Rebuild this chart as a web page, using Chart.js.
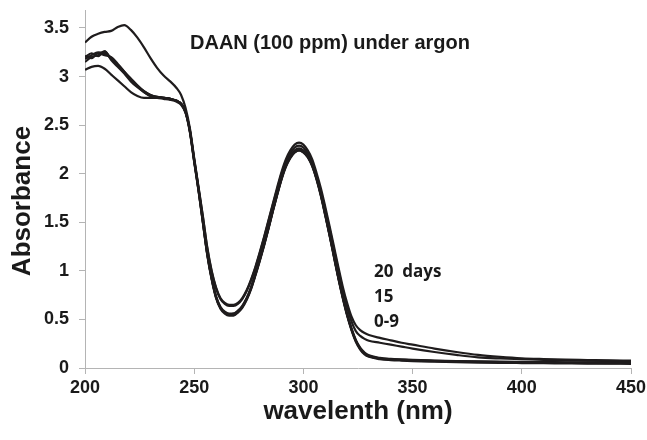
<!DOCTYPE html>
<html>
<head>
<meta charset="utf-8">
<title>DAAN absorbance spectra</title>
<script src="https://cdn.jsdelivr.net/npm/chart.js@4.4.1/dist/chart.umd.min.js"></script>
<style>
    html, body { margin: 0; padding: 0; background: #fff; }
    #wrap { width: 647px; height: 440px; }
</style>
</head>
<body>
<div id="wrap"><canvas id="spectrumChart" width="647" height="440"></canvas></div>
<script>
// wavelength grid (nm), shared by every spectrum
const wavelength = [
    200, 203, 206, 209, 212, 215, 218, 221, 224, 227, 230, 233, 236, 239, 242,
    244, 246, 248, 250, 252, 254, 256, 258, 260, 262, 264, 266, 268, 270, 272,
    274, 276, 278, 280, 282, 284, 286, 288, 290, 292, 294, 296, 298, 300, 302,
    304, 306, 308, 310, 312, 314, 316, 318, 320, 322, 324, 326, 328, 330,
    335, 340, 345, 350, 360, 370, 380, 390, 400, 410, 420, 430, 440, 450
];

// absorbance after 20 days
const day20 = [
    3.35, 3.41, 3.44, 3.46, 3.47, 3.51, 3.53, 3.48, 3.40, 3.30, 3.19, 3.09, 3.01, 2.95, 2.88,
    2.81, 2.68, 2.47, 2.16, 1.86, 1.56, 1.24, 1.00, 0.83, 0.72, 0.67, 0.65, 0.65, 0.67, 0.72,
    0.80, 0.91, 1.04, 1.19, 1.35, 1.52, 1.69, 1.86, 2.02, 2.15, 2.24, 2.30, 2.32, 2.30, 2.24,
    2.15, 2.01, 1.85, 1.66, 1.46, 1.25, 1.04, 0.84, 0.67, 0.53, 0.44, 0.39, 0.36, 0.34,
    0.31, 0.285, 0.26, 0.24, 0.20, 0.165, 0.135, 0.115, 0.10, 0.092, 0.086, 0.082, 0.078, 0.075
];

// absorbance after 15 days
const day15 = [
    3.07, 3.10, 3.11, 3.08, 3.02, 2.96, 2.90, 2.84, 2.80, 2.78, 2.78, 2.78, 2.77, 2.76, 2.74,
    2.71, 2.63, 2.45, 2.15, 1.85, 1.55, 1.23, 0.99, 0.82, 0.71, 0.66, 0.64, 0.64, 0.66, 0.71,
    0.79, 0.90, 1.03, 1.18, 1.34, 1.51, 1.68, 1.84, 2.00, 2.12, 2.21, 2.27, 2.29, 2.27, 2.21,
    2.12, 1.98, 1.82, 1.63, 1.43, 1.22, 1.01, 0.81, 0.63, 0.48, 0.38, 0.33, 0.30, 0.28,
    0.26, 0.24, 0.22, 0.20, 0.165, 0.135, 0.11, 0.098, 0.09, 0.084, 0.08, 0.076, 0.073, 0.07
];

// absorbance from day 0 to day 9
const day0 = [
    3.18, 3.22, 3.25, 3.24, 3.19, 3.11, 3.04, 2.96, 2.90, 2.84, 2.80, 2.79, 2.78, 2.77, 2.75,
    2.72, 2.64, 2.44, 2.13, 1.83, 1.50, 1.17, 0.92, 0.73, 0.62, 0.57, 0.55, 0.55, 0.58, 0.63,
    0.71, 0.82, 0.96, 1.11, 1.27, 1.44, 1.62, 1.79, 1.95, 2.08, 2.17, 2.23, 2.25, 2.23, 2.18,
    2.09, 1.95, 1.78, 1.58, 1.37, 1.15, 0.93, 0.73, 0.55, 0.40, 0.28, 0.20, 0.15, 0.125,
    0.10, 0.09, 0.085, 0.08, 0.074, 0.069, 0.065, 0.062, 0.06, 0.057, 0.055, 0.053, 0.051, 0.05
];

const day3 = [
    3.15, 3.20, 3.22, 3.26, 3.18, 3.12, 3.05, 2.97, 2.90, 2.85, 2.81, 2.79, 2.78, 2.77, 2.75,
    2.72, 2.64, 2.45, 2.14, 1.84, 1.51, 1.18, 0.93, 0.74, 0.63, 0.58, 0.56, 0.56, 0.59, 0.64,
    0.72, 0.83, 0.97, 1.12, 1.28, 1.45, 1.63, 1.80, 1.96, 2.09, 2.18, 2.24, 2.26, 2.24, 2.19,
    2.10, 1.96, 1.79, 1.59, 1.38, 1.16, 0.94, 0.74, 0.56, 0.41, 0.29, 0.21, 0.16, 0.13,
    0.105, 0.094, 0.088, 0.083, 0.077, 0.072, 0.068, 0.065, 0.063, 0.061, 0.059, 0.057, 0.056, 0.055
];

const day6 = [
    3.21, 3.19, 3.24, 3.22, 3.20, 3.13, 3.05, 2.98, 2.91, 2.85, 2.81, 2.79, 2.78, 2.77, 2.75,
    2.72, 2.63, 2.43, 2.12, 1.82, 1.49, 1.16, 0.91, 0.72, 0.61, 0.56, 0.54, 0.54, 0.57, 0.62,
    0.70, 0.81, 0.95, 1.10, 1.26, 1.43, 1.61, 1.78, 1.94, 2.07, 2.16, 2.22, 2.24, 2.22, 2.17,
    2.08, 1.94, 1.77, 1.57, 1.36, 1.14, 0.92, 0.72, 0.54, 0.39, 0.27, 0.19, 0.14, 0.115,
    0.092, 0.082, 0.076, 0.071, 0.065, 0.06, 0.056, 0.053, 0.051, 0.049, 0.047, 0.045, 0.044, 0.043
];

const day9 = [
    3.20, 3.24, 3.21, 3.26, 3.17, 3.10, 3.03, 2.95, 2.89, 2.84, 2.80, 2.79, 2.78, 2.77, 2.75,
    2.72, 2.64, 2.44, 2.13, 1.83, 1.50, 1.17, 0.92, 0.73, 0.62, 0.57, 0.55, 0.56, 0.58, 0.63,
    0.71, 0.82, 0.96, 1.11, 1.27, 1.44, 1.62, 1.79, 1.95, 2.08, 2.17, 2.22, 2.24, 2.22, 2.17,
    2.08, 1.95, 1.78, 1.58, 1.37, 1.15, 0.93, 0.73, 0.55, 0.40, 0.28, 0.20, 0.15, 0.12,
    0.098, 0.088, 0.082, 0.077, 0.071, 0.066, 0.062, 0.059, 0.057, 0.055, 0.053, 0.051, 0.05, 0.049
];

const xTicks = [200, 250, 300, 350, 400, 450];
const yTicks = [0, 0.5, 1, 1.5, 2, 2.5, 3, 3.5];

// labels written next to the tails of the spectra
const dayLabels = ['20  days', '15', '0-9'];

const lineColor = '#1f1c1d';
const axisColor = '#b4b4b4';
const textColor = '#1a1a1a';
const axisFont = 'Liberation Sans, Arial, sans-serif';

function toPoints(values) {
    return wavelength.map((w, i) => ({ x: w, y: values[i] }));
}

function spectrum(values) {
    return {
        data: toPoints(values),
        borderColor: lineColor,
        borderWidth: 2.2,
        pointRadius: 0,
        fill: false,
        cubicInterpolationMode: 'monotone'
    };
}

// title, y axis caption and day labels
const plotText = {
    id: 'plotText',
    afterDatasetsDraw(chart) {
        const ctx = chart.ctx;
        ctx.save();
        ctx.fillStyle = textColor;
        ctx.textBaseline = 'middle';
        ctx.textAlign = 'left';
        ctx.font = 'bold 20px ' + axisFont;
        ctx.fillText('DAAN (100 ppm) under argon', 190, 43);

        ctx.font = 'bold 17px "Open Sans", Lato, sans-serif';
        dayLabels.forEach((label, i) => {
            ctx.fillText(label, 374, 272 + i * 25);
        });

        // vertical caption of the absorbance axis
        ctx.translate(23, 201);
        ctx.rotate(-Math.PI / 2);
        ctx.textAlign = 'center';
        ctx.font = 'bold 26px ' + axisFont;
        ctx.fillText('Absorbance', 0, 0);
        ctx.restore();
    }
};

document.addEventListener('DOMContentLoaded', function() {
    const ctx = document.getElementById('spectrumChart');

    new Chart(ctx, {
        type: 'line',
        data: {
            datasets: [day20, day15, day0, day3, day6, day9].map(spectrum)
        },
        options: {
            responsive: false,
            animation: false,
            events: [],
            layout: {
                padding: { left: 0, right: 16, top: 10, bottom: 0 }
            },
            plugins: {
                legend: { display: false },
                tooltip: { enabled: false }
            },
            scales: {
                x: {
                    type: 'linear',
                    min: 200,
                    max: 450,
                    afterBuildTicks: scale => {
                        scale.ticks = xTicks.map(v => ({ value: v }));
                    },
                    afterFit: scale => {
                        scale.height = 72;
                        scale.paddingLeft = 0;
                        scale.paddingRight = 0;
                    },
                    grid: {
                        drawOnChartArea: false,
                        drawTicks: true,
                        tickLength: 6,
                        color: axisColor
                    },
                    border: { display: true, color: axisColor, width: 1 },
                    ticks: {
                        padding: 3,
                        maxRotation: 0,
                        color: textColor,
                        font: { family: axisFont, size: 18, weight: 'bold' },
                        callback: value => String(value)
                    },
                    title: {
                        display: true,
                        text: 'wavelenth (nm)',
                        color: textColor,
                        font: { family: axisFont, size: 26, weight: 'bold' },
                        padding: { top: 0, bottom: 13 }
                    }
                },
                y: {
                    min: 0,
                    max: 3.685,
                    afterBuildTicks: scale => {
                        scale.ticks = yTicks.map(v => ({ value: v }));
                    },
                    afterFit: scale => {
                        scale.width = 85;
                        scale.paddingTop = 0;
                        scale.paddingBottom = 0;
                    },
                    grid: {
                        drawOnChartArea: false,
                        drawTicks: true,
                        tickLength: 6,
                        color: axisColor
                    },
                    border: { display: true, color: axisColor, width: 1 },
                    ticks: {
                        padding: 10,
                        color: textColor,
                        font: { family: axisFont, size: 18, weight: 'bold' },
                        callback: value => String(value)
                    }
                }
            }
        },
        plugins: [plotText]
    });
});
</script>
</body>
</html>
